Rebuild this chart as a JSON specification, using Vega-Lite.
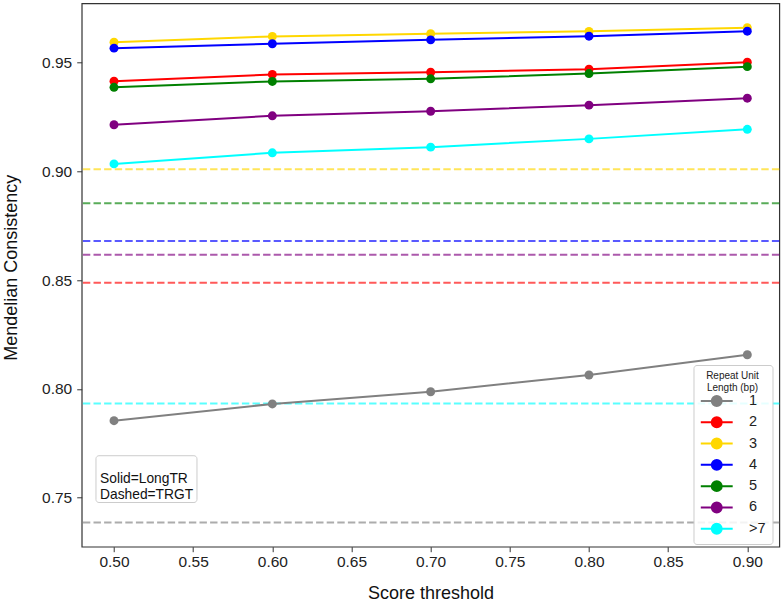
{
  "$schema": "https://vega.github.io/schema/vega-lite/v6.json",
  "autosize": "none",
  "width": 697.6,
  "height": 543.4,
  "padding": {"left": 81.7, "top": 3.3, "right": 3, "bottom": 59},
  "background": "white",
  "config": {
    "font": "Liberation Sans",
    "view": {"stroke": "#333333", "strokeWidth": 1.2},
    "axis": {
      "grid": false,
      "domain": false,
      "tickColor": "#333333",
      "tickSize": 5,
      "tickWidth": 1,
      "labelFont": "Liberation Sans",
      "labelFontSize": 15.5,
      "labelColor": "#222222",
      "titleFont": "Liberation Sans",
      "titleFontSize": 18,
      "titleFontWeight": "normal",
      "titleColor": "#111111"
    },
    "axisX": {"labelPadding": 3},
    "axisY": {"labelPadding": 5}
  },
  "datasets": {
    "longtr": [
      {"threshold": 0.5, "rul": "1", "mc": 0.7854},
      {"threshold": 0.6, "rul": "1", "mc": 0.7931},
      {"threshold": 0.7, "rul": "1", "mc": 0.7987},
      {"threshold": 0.8, "rul": "1", "mc": 0.8064},
      {"threshold": 0.9, "rul": "1", "mc": 0.8157},
      {"threshold": 0.5, "rul": "2", "mc": 0.9414},
      {"threshold": 0.6, "rul": "2", "mc": 0.9445},
      {"threshold": 0.7, "rul": "2", "mc": 0.9455},
      {"threshold": 0.8, "rul": "2", "mc": 0.9469},
      {"threshold": 0.9, "rul": "2", "mc": 0.9501},
      {"threshold": 0.5, "rul": "3", "mc": 0.9593},
      {"threshold": 0.6, "rul": "3", "mc": 0.9620},
      {"threshold": 0.7, "rul": "3", "mc": 0.9632},
      {"threshold": 0.8, "rul": "3", "mc": 0.9643},
      {"threshold": 0.9, "rul": "3", "mc": 0.9660},
      {"threshold": 0.5, "rul": "4", "mc": 0.9566},
      {"threshold": 0.6, "rul": "4", "mc": 0.9586},
      {"threshold": 0.7, "rul": "4", "mc": 0.9604},
      {"threshold": 0.8, "rul": "4", "mc": 0.9621},
      {"threshold": 0.9, "rul": "4", "mc": 0.9644},
      {"threshold": 0.5, "rul": "5", "mc": 0.9386},
      {"threshold": 0.6, "rul": "5", "mc": 0.9413},
      {"threshold": 0.7, "rul": "5", "mc": 0.9425},
      {"threshold": 0.8, "rul": "5", "mc": 0.9449},
      {"threshold": 0.9, "rul": "5", "mc": 0.9481},
      {"threshold": 0.5, "rul": "6", "mc": 0.9214},
      {"threshold": 0.6, "rul": "6", "mc": 0.9255},
      {"threshold": 0.7, "rul": "6", "mc": 0.9276},
      {"threshold": 0.8, "rul": "6", "mc": 0.9304},
      {"threshold": 0.9, "rul": "6", "mc": 0.9336},
      {"threshold": 0.5, "rul": ">7", "mc": 0.9034},
      {"threshold": 0.6, "rul": ">7", "mc": 0.9085},
      {"threshold": 0.7, "rul": ">7", "mc": 0.9111},
      {"threshold": 0.8, "rul": ">7", "mc": 0.9149},
      {"threshold": 0.9, "rul": ">7", "mc": 0.9193}
    ],
    "trgt": [
      {"rul": "1", "mc": 0.7386},
      {"rul": "2", "mc": 0.8488},
      {"rul": "3", "mc": 0.9009},
      {"rul": "4", "mc": 0.8680},
      {"rul": "5", "mc": 0.8853},
      {"rul": "6", "mc": 0.8616},
      {"rul": ">7", "mc": 0.7933}
    ],
    "note": [
      {"label": ["Solid=LongTR", "Dashed=TRGT"]}
    ]
  },
  "encoding": {
    "color": {
      "field": "rul",
      "type": "nominal",
      "scale": {
        "domain": ["1", "2", "3", "4", "5", "6", ">7"],
        "range": ["#808080", "#ff0000", "#ffd700", "#0000ff", "#008000", "#800080", "#00ffff"]
      },
      "legend": {
        "title": ["Repeat Unit", "Length (bp)"],
        "orient": "none",
        "legendX": 611.8,
        "legendY": 361.7,
        "titleFontSize": 10,
        "titleFontWeight": "normal",
        "titleFont": "Liberation Sans",
        "titleColor": "#222222",
        "titleAnchor": "middle",
        "titleAlign": "center",
        "titleLineHeight": 11.7,
        "titlePadding": 1,
        "labelFontSize": 14.5,
        "labelFont": "Liberation Sans",
        "labelColor": "#222222",
        "symbolType": "M-2.9,0H2.9M-0.9,0A0.9,0.9,0,1,1,0.9,0A0.9,0.9,0,1,1,-0.9,0Z",
        "symbolSize": 121,
        "symbolStrokeWidth": 2,
        "symbolOffset": 10,
        "labelOffset": 25,
        "rowPadding": 2.3,
        "padding": 6,
        "fillColor": "rgba(255,255,255,0.85)",
        "strokeColor": "#cccccc",
        "cornerRadius": 3,
        "encode": {
          "symbols": {
            "update": {
              "fill": {"scale": "color", "field": "value"},
              "stroke": {"scale": "color", "field": "value"},
              "strokeWidth": {"value": 2},
              "opacity": {"value": 1}
            }
          }
        }
      }
    }
  },
  "layer": [
    {
      "data": {"name": "trgt"},
      "mark": {"type": "rule", "strokeDash": [7.4, 3.2], "strokeWidth": 2, "opacity": 0.65},
      "encoding": {
        "y": {
          "field": "mc",
          "type": "quantitative",
          "scale": {"domain": [0.7275, 0.9772], "nice": false, "zero": false},
          "axis": {"values": [0.75, 0.8, 0.85, 0.9, 0.95], "format": ".2f", "title": "Mendelian Consistency", "titlePadding": 21, "titleY": 264}
        }
      }
    },
    {
      "data": {"name": "longtr"},
      "mark": {"type": "line", "strokeWidth": 2},
      "encoding": {
        "x": {
          "field": "threshold",
          "type": "quantitative",
          "scale": {"domain": [0.4796, 0.9202], "nice": false, "zero": false},
          "axis": {"values": [0.5, 0.55, 0.6, 0.65, 0.7, 0.75, 0.8, 0.85, 0.9], "format": ".2f", "title": "Score threshold", "titlePadding": 14}
        },
        "y": {"field": "mc", "type": "quantitative"}
      }
    },
    {
      "data": {"name": "longtr"},
      "mark": {"type": "point", "filled": true, "size": 80, "opacity": 1},
      "encoding": {
        "x": {"field": "threshold", "type": "quantitative"},
        "y": {"field": "mc", "type": "quantitative"}
      }
    },
    {
      "data": {"name": "note"},
      "mark": {"type": "rect", "fill": "white", "stroke": "#cccccc", "strokeWidth": 1, "cornerRadius": 3},
      "encoding": {
        "color": {"value": "white"},
        "x": {"datum": 0.4886},
        "x2": {"datum": 0.5524},
        "y": {"datum": 0.7693},
        "y2": {"datum": 0.7478}
      }
    },
    {
      "data": {"name": "note"},
      "mark": {"type": "text", "align": "left", "baseline": "middle", "fontSize": 13.8, "lineHeight": 16, "font": "Liberation Sans"},
      "encoding": {
        "color": {"value": "#111111"},
        "text": {"field": "label"},
        "x": {"datum": 0.4912},
        "y": {"datum": 0.7584}
      }
    }
  ]
}
